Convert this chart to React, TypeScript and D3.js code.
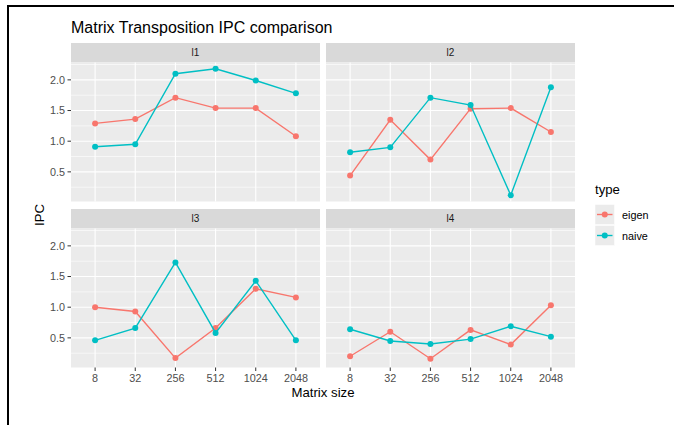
import React from "react";
import * as d3 from "d3";

// Matrix sizes on the x axis
const sizes = ["8", "32", "256", "512", "1024", "2048"];
const panels = ["l1", "l2", "l3", "l4"];
const types = ["eigen", "naive"];

// IPC per panel, in matrix-size order
const eigenL1 = [1.29, 1.36, 1.71, 1.54, 1.54, 1.08];
const naiveL1 = [0.91, 0.95, 2.1, 2.18, 1.99, 1.78];
const eigenL2 = [0.44, 1.35, 0.7, 1.53, 1.54, 1.15];
const naiveL2 = [0.82, 0.9, 1.71, 1.59, 0.12, 1.88];
const eigenL3 = [1.0, 0.93, 0.17, 0.66, 1.3, 1.16];
const naiveL3 = [0.46, 0.66, 1.73, 0.58, 1.43, 0.46];
const eigenL4 = [0.2, 0.6, 0.16, 0.63, 0.39, 1.03];
const naiveL4 = [0.64, 0.45, 0.4, 0.48, 0.69, 0.52];

const yTicks = [0.5, 1.0, 1.5, 2.0];
const yMinor = [0.25, 0.75, 1.25, 1.75, 2.25];

const series: Record<string, Record<string, number[]>> = {
  l1: { eigen: eigenL1, naive: naiveL1 },
  l2: { eigen: eigenL2, naive: naiveL2 },
  l3: { eigen: eigenL3, naive: naiveL3 },
  l4: { eigen: eigenL4, naive: naiveL4 },
};

const colors: Record<string, string> = { eigen: "#F8766D", naive: "#00BFC4" };

const W = 674;
const H = 425;
const FONT = "'Liberation Sans', Arial, Helvetica, sans-serif";

const colX = [71, 326];
const panelW = 249;
const stripTop = [43, 209];
const stripH = 19.5;
const panelH = 139;

export default function App() {
  const all = panels.flatMap((p) => types.flatMap((t) => series[p][t]));
  const lo = d3.min(all)!;
  const hi = d3.max(all)!;
  const pad = (hi - lo) * 0.05;

  const x = d3.scalePoint<string>().domain(sizes).range([0, panelW]).padding(0.6);
  const y = d3.scaleLinear().domain([lo - pad, hi + pad]).range([panelH, 0]);
  const line = d3
    .line<number>()
    .x((_, i) => x(sizes[i])!)
    .y((v) => y(v));

  return (
    <svg
      width={W}
      height={H}
      style={{ position: "absolute", left: 0, top: 0, background: "#fff" }}
      fontFamily={FONT}
    >
      <rect width={W} height={H} fill="#fff" />
      <line x1={8} x2={W} y1={6} y2={6} stroke="#000" strokeWidth={2} />
      <line x1={8} x2={8} y1={5} y2={H} stroke="#000" strokeWidth={2} />

      <text x={71} y={33} fontSize={16} fill="#000">
        Matrix Transposition IPC comparison
      </text>

      {panels.map((p, pi) => {
        const col = pi % 2;
        const row = Math.floor(pi / 2);
        const px = colX[col];
        const sy = stripTop[row];
        const py = sy + stripH;
        return (
          <g key={p}>
            <rect x={px} y={sy} width={panelW} height={stripH} fill="#D9D9D9" />
            <text
              x={px + panelW / 2}
              y={sy + stripH / 2 + 3.5}
              textAnchor="middle"
              fontSize={10}
              fill="#1A1A1A"
            >
              {p}
            </text>
            <g transform={`translate(${px},${py})`}>
              <rect width={panelW} height={panelH} fill="#EBEBEB" />
              {yMinor
                .filter((v) => y(v) >= 0 && y(v) <= panelH)
                .map((v) => (
                  <line key={"m" + v} x1={0} x2={panelW} y1={y(v)} y2={y(v)} stroke="#fff" strokeWidth={0.6} />
                ))}
              {yTicks.map((v) => (
                <line key={"g" + v} x1={0} x2={panelW} y1={y(v)} y2={y(v)} stroke="#fff" strokeWidth={1.1} />
              ))}
              {sizes.map((s) => (
                <line key={"v" + s} x1={x(s)} x2={x(s)} y1={0} y2={panelH} stroke="#fff" strokeWidth={1.1} />
              ))}
              {types.map((t) => (
                <g key={t}>
                  <path d={line(series[p][t])!} fill="none" stroke={colors[t]} strokeWidth={1.4} />
                  {series[p][t].map((v, i) => (
                    <circle key={i} cx={x(sizes[i])} cy={y(v)} r={3} fill={colors[t]} />
                  ))}
                </g>
              ))}
              {col === 0 &&
                yTicks.map((v) => (
                  <g key={"yt" + v}>
                    <line x1={-3.5} x2={0} y1={y(v)} y2={y(v)} stroke="#333" strokeWidth={1} />
                    <text x={-6} y={y(v) + 3.8} textAnchor="end" fontSize={10.8} fill="#4D4D4D">
                      {v.toFixed(1)}
                    </text>
                  </g>
                ))}
              {row === 1 &&
                sizes.map((s) => (
                  <g key={"xt" + s}>
                    <line x1={x(s)} x2={x(s)} y1={panelH} y2={panelH + 3.5} stroke="#333" strokeWidth={1} />
                    <text x={x(s)} y={panelH + 14.5} textAnchor="middle" fontSize={10.8} fill="#4D4D4D">
                      {s}
                    </text>
                  </g>
                ))}
            </g>
          </g>
        );
      })}

      <text x={323} y={397} textAnchor="middle" fontSize={13.2} fill="#000">
        Matrix size
      </text>
      <text
        transform={`translate(44,215) rotate(-90)`}
        textAnchor="middle"
        fontSize={13.2}
        fill="#000"
      >
        IPC
      </text>

      <text x={595} y={194} fontSize={13.2} fill="#000">
        type
      </text>
      {types.map((t, i) => {
        const ky = 204.5 + i * 21;
        return (
          <g key={"lg" + t}>
            <rect x={595} y={ky} width={19.5} height={20} fill="#EBEBEB" stroke="#fff" strokeWidth={0.5} />
            <line x1={597} x2={612.5} y1={ky + 10} y2={ky + 10} stroke={colors[t]} strokeWidth={1.4} />
            <circle cx={604.75} cy={ky + 10} r={3} fill={colors[t]} />
            <text x={622} y={ky + 14} fontSize={10.8} fill="#000">
              {t}
            </text>
          </g>
        );
      })}
    </svg>
  );
}
